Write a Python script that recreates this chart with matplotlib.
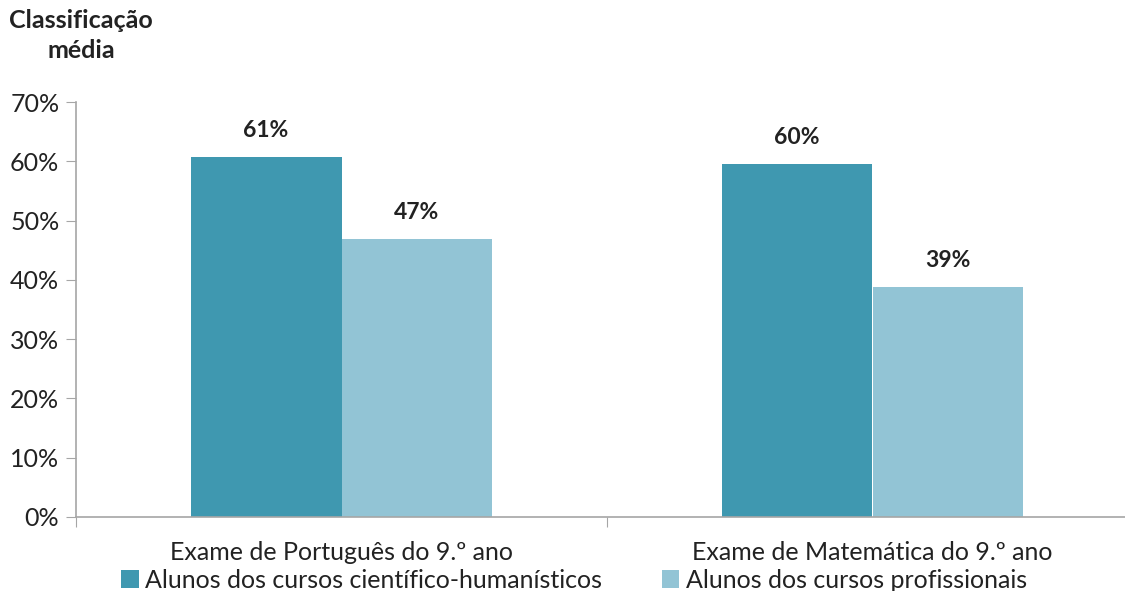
import numpy as np
import matplotlib.pyplot as plt

plt.rcParams['font.family'] = ['Lato', 'DejaVu Sans']

exames = ['Exame de Português do 9.º ano', 'Exame de Matemática do 9.º ano']
cientifico = [60.7, 59.5]
profissional = [46.9, 38.8]
rotulos_cient = ['61%', '60%']
rotulos_prof = ['47%', '39%']
series = ['Alunos dos cursos científico-humanísticos', 'Alunos dos cursos profissionais']

cor_escura = '#3F98B0'
cor_clara = '#92C4D5'
cinza = '#A6A6A6'

fig = plt.figure(figsize=(11.25, 5.91), dpi=100)
ax = fig.add_axes([76 / 1125, 74 / 591, 1062 / 1125, 415 / 591])

x = np.arange(len(exames))
w = 0.284
b1 = ax.bar(x - w / 2, cientifico, w, color=cor_escura, label=series[0])
b2 = ax.bar(x + w / 2, profissional, w, color=cor_clara, label=series[1])

for barras, rot in ((b1, rotulos_cient), (b2, rotulos_prof)):
    for b, t in zip(barras, rot):
        ax.annotate(t, (b.get_x() + b.get_width() / 2, b.get_height()),
                    xytext=(0, 19), textcoords='offset points',
                    ha='center', va='center', fontsize=16.5, fontweight='bold',
                    color='#222222')

ax.set_xlim(-0.5, 1.5)
ax.set_ylim(0, 70)
ax.set_yticks(np.arange(0, 71, 10))
ax.set_yticklabels([f'{v}%' for v in range(0, 71, 10)])

ax.set_xticks([-0.5, 0.5, 1.5])
ax.set_xticklabels([])
ax.set_xticks(x, minor=True)
ax.set_xticklabels(exames, minor=True)
ax.tick_params(axis='x', which='minor', length=0, pad=17, labelsize=18, labelcolor='#222222')
ax.tick_params(axis='x', which='major', length=7, color=cinza)
ax.tick_params(axis='y', length=7, color=cinza, labelsize=18, labelcolor='#222222', pad=5)

for s in ('top', 'right'):
    ax.spines[s].set_visible(False)
for s in ('left', 'bottom'):
    ax.spines[s].set_color(cinza)
    ax.spines[s].set_linewidth(1.2)

fig.text(81 / 1125, 1 - 9 / 591, 'Classificação\nmédia', ha='center', va='top',
         fontsize=18, fontweight='bold', color='#222222', linespacing=1.35)

fig.legend(loc='center', bbox_to_anchor=(574 / 1125, 1 - 580 / 591), ncol=2,
           frameon=False, fontsize=18, handlelength=0.7, handleheight=0.7,
           handletextpad=0.25, columnspacing=2.4, borderaxespad=0,
           labelcolor='#222222')

fig.savefig('out.png', dpi=100)
